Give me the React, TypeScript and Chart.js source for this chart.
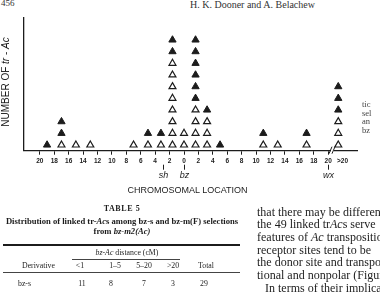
import React, { useEffect, useRef } from "react";
import { Chart, registerables } from "chart.js";

Chart.register(...registerables);

// ---- data ----
const POSITIONS = [-19, -17, -15, -13, -7, -5, -3.2, -1.6, 0, 1.6, 3.2, 5, 11, 13, 17, 21.4];
const OPEN_COUNTS = [0, 1, 1, 1, 1, 1, 1, 8, 2, 4, 3, 0, 1, 1, 1, 3];
const FILLED_COUNTS = [1, 2, 0, 0, 0, 1, 1, 2, 0, 6, 1, 1, 1, 0, 1, 3];
const TICK_VALUES = [-20, -18, -16, -14, -12, -10, -8, -6, -4, -2, 0, 2, 4, 6, 8, 10, 12, 14, 16, 18, 20, 22];
const TICK_LABELS = ["20", "18", "16", "14", "12", "10", "8", "6", "4", "2", "0", "2", "4", "6", "8", "10", "12", "14", "16", "18", "20", ">20"];
const LOCUS_NAMES = ["sh", "bz", "wx"];
const LOCUS_POSITIONS = [-2.9, 0, 20];
const BREAK_POSITION = 20.6;

const INK = "#1c1c1c";

const annotations = {
  id: "annotations",
  afterDraw(chart: any) {
    const { ctx, chartArea, scales } = chart;
    const x = scales.x;
    const base = chartArea.bottom;
    ctx.save();
    // axis break
    const bx = x.getPixelForValue(BREAK_POSITION);
    ctx.fillStyle = "#fff";
    ctx.fillRect(bx - 1.5, base - 1.5, 3, 3);
    ctx.strokeStyle = INK;
    ctx.lineWidth = 1;
    ctx.beginPath();
    ctx.moveTo(bx - 3.5, base + 3);
    ctx.lineTo(bx - 0.5, base - 4);
    ctx.moveTo(bx - 0.5, base + 3);
    ctx.lineTo(bx + 2.5, base - 4);
    ctx.stroke();
    // loci
    ctx.fillStyle = INK;
    ctx.font = 'italic 9px "Liberation Sans", Arial, sans-serif';
    ctx.textAlign = "center";
    ctx.textBaseline = "middle";
    LOCUS_NAMES.forEach((name, i) => {
      const px = Math.round(x.getPixelForValue(LOCUS_POSITIONS[i])) + 0.5;
      ctx.beginPath();
      ctx.moveTo(px, base + 14);
      ctx.lineTo(px, base + 19);
      ctx.stroke();
      ctx.fillText(name, px, base + 25);
    });
    ctx.restore();
  },
};

function TriangleChart() {
  const ref = useRef<HTMLCanvasElement>(null);
  useEffect(() => {
    if (!ref.current) return;
    const openPoints: { x: number; y: number }[] = [];
    const filledPoints: { x: number; y: number }[] = [];
    POSITIONS.forEach((pos, i) => {
      for (let k = 1; k <= OPEN_COUNTS[i]; k++) openPoints.push({ x: pos, y: k });
      for (let k = 1; k <= FILLED_COUNTS[i]; k++) filledPoints.push({ x: pos, y: OPEN_COUNTS[i] + k });
    });
    const chart = new Chart(ref.current, {
      type: "scatter",
      data: {
        datasets: [
          {
            label: "open",
            data: openPoints,
            pointStyle: "triangle",
            pointRadius: 4,
            pointBackgroundColor: "#ffffff",
            pointBorderColor: INK,
            pointBorderWidth: 1.2,
          },
          {
            label: "filled",
            data: filledPoints,
            pointStyle: "triangle",
            pointRadius: 4.2,
            pointBackgroundColor: INK,
            pointBorderColor: INK,
            pointBorderWidth: 1,
          },
        ],
      },
      options: {
        animation: false,
        responsive: false,
        devicePixelRatio: 1,
        layout: { padding: { left: 24, top: 18, right: 23, bottom: 29.3 } },
        plugins: { legend: { display: false }, tooltip: { enabled: false } },
        scales: {
          x: {
            type: "linear",
            min: -22.2,
            max: 24,
            afterBuildTicks: (axis: any) => {
              axis.ticks = TICK_VALUES.map((v) => ({ value: v }));
            },
            afterFit: (axis: any) => {
              axis.height = 20;
            },
            ticks: {
              autoSkip: false,
              maxRotation: 0,
              padding: 2.5,
              color: INK,
              font: { family: '"Liberation Sans", Arial, sans-serif', size: 6.5, weight: "bold" },
              callback: (_v: any, index: number) => TICK_LABELS[index],
            },
            grid: {
              drawOnChartArea: false,
              drawTicks: true,
              tickLength: 4,
              color: INK,
              tickColor: (c: any) => (c.tick && c.tick.value === 22 ? "rgba(0,0,0,0)" : INK),
              tickWidth: 1,
            },
            border: { display: true, color: INK, width: 1.3 },
          },
          y: {
            type: "linear",
            min: 0.51,
            max: 11.88,
            afterFit: (axis: any) => {
              axis.width = 0;
            },
            ticks: { display: false },
            grid: { display: false },
            border: { display: true, color: INK, width: 1.3 },
          },
        },
      },
      plugins: [annotations],
    });
    return () => chart.destroy();
  }, []);
  return <canvas ref={ref} width={380} height={200} style={{ position: "absolute", left: 0, top: 0 }} />;
}

const abs = (left: number, top: number, extra: any = {}) => ({
  position: "absolute" as const,
  left,
  top,
  whiteSpace: "nowrap" as const,
  ...extra,
});

export default function App() {
  const serif = '"Liberation Serif", "Times New Roman", serif';
  const sans = '"Liberation Sans", Arial, sans-serif';
  const tableFont = { fontFamily: serif, fontSize: 7.8, lineHeight: "9px" };
  const center = (cx: number, top: number, content: any, extra: any = {}) => (
    <div style={abs(cx - 40, top, { width: 80, textAlign: "center", ...tableFont, ...extra })}>{content}</div>
  );
  return (
    <div
      style={{
        position: "fixed",
        left: 0,
        top: 0,
        width: 380,
        height: 292,
        overflow: "hidden",
        background: "#fff",
        color: INK,
        fontFamily: serif,
      }}
    >
      <div style={abs(1, -2, { fontSize: 9, lineHeight: "10px", color: "#333" })}>456</div>
      <div style={abs(190, -1, { fontSize: 10, lineHeight: "11px", color: "#333" })}>H. K. Dooner and A. Belachew</div>

      <TriangleChart />

      <div
        style={abs(-44, 77, {
          width: 100,
          height: 10,
          lineHeight: "10px",
          textAlign: "center",
          transform: "rotate(-90deg)",
          fontFamily: sans,
          fontSize: 10,
        })}
      >
        NUMBER OF <i>tr</i> - <i>Ac</i>
      </div>
      <div style={abs(117, 185, { width: 141, textAlign: "center", fontFamily: sans, fontSize: 9, lineHeight: "11px" })}>
        CHROMOSOMAL LOCATION
      </div>

      {/* text beside the figure */}
      <div style={abs(362, 100, { fontSize: 8.5, lineHeight: "8.7px", color: "#444" })}>
        tic
        <br />
        sel
        <br />
        an
        <br />
        bz
      </div>

      {/* table */}
      <div style={abs(0, 204, { width: 244, textAlign: "center", fontFamily: serif, fontSize: 8, fontWeight: "bold", letterSpacing: 0.6, lineHeight: "10px" })}>
        TABLE 5
      </div>
      <div style={abs(0, 216, { width: 244, textAlign: "center", fontFamily: serif, fontSize: 8.6, fontWeight: "bold", lineHeight: "10px" })}>
        Distribution of linked tr-<i>Ac</i>s among bz-s and bz-m(F) selections
        <br />
        from <i>bz-m2(Ac)</i>
      </div>
      <div style={abs(3, 244, { width: 237, height: 1.6, background: INK })} />
      {center(127, 248, <span><i>bz-Ac</i> distance (cM)</span>, { width: 120, left: 67 })}
      <div style={abs(72, 258.5, { width: 108, height: 0.8, background: "#444" })} />
      <div style={abs(22, 261, tableFont)}>Derivative</div>
      {center(80, 261, "<1")}
      {center(115, 261, "1–5")}
      {center(144, 261, "5–20")}
      {center(173, 261, ">20")}
      {center(206, 261, "Total")}
      <div style={abs(3, 272, { width: 237, height: 0.8, background: "#444" })} />
      <div style={abs(18, 279, tableFont)}>bz-s</div>
      {center(82, 279, "11")}
      {center(111, 279, "8")}
      {center(144, 279, "7")}
      {center(173, 279, "3")}
      {center(204, 279, "29")}

      {/* running text, right column */}
      <div style={abs(257, 205.5, { fontFamily: serif, fontSize: 12, lineHeight: "12.7px" })}>
        that there may be different
        <br />
        the 49 linked tr<i>Ac</i>s serve
        <br />
        features of <i>Ac</i> transposition
        <br />
        receptor sites tend to be
        <br />
        the donor site and transposition
        <br />
        tional and nonpolar (Figure
        <br />
        <span style={{ marginLeft: 8 }}>In terms of their implications</span>
      </div>
    </div>
  );
}
